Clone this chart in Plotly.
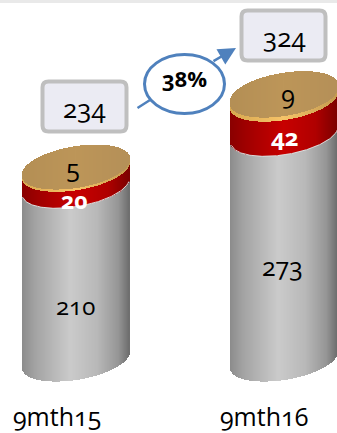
import numpy as np
import plotly.graph_objects as go

categories = ["9mth15", "9mth16"]
grey_values = [210, 273]
red_values = [20, 42]
gold_values = [5, 9]
totals = [234, 324]
growth_label = "38%"

W, H = 337, 433
PX_PER_UNIT = 0.825
ZERO_PX = 360
FONT = "Open Sans"


def v(py):
    """pixel row -> axis value"""
    return (ZERO_PX - py) / PX_PER_UNIT


centers = [75.8, 284.5]
half_w = 53.5
skew = 8 / PX_PER_UNIT
rad = 20 / PX_PER_UNIT

GREY = [(0, "#8c8c8c"), (.12, "#a3a3a3"), (.45, "#cbcbcb"), (.7, "#b9b9b9"), (.9, "#969696"), (1, "#6e6e6e")]
RED = [(0, "#8a0000"), (.15, "#a00000"), (.5, "#c80000"), (.8, "#b00000"), (1, "#7c0000")]
RIM = [(0, "#d8a850"), (.5, "#f7c469"), (1, "#c49a50")]
CAP = [(0, "#b48f55"), (.5, "#bd9659"), (1, "#b59058")]


def ramp(stops, u):
    ps = [s[0] for s in stops]
    cs = [[int(s[1][i:i + 2], 16) for i in (1, 3, 5)] for s in stops]
    return ["rgb(%d,%d,%d)" % tuple(np.interp(x, ps, [c[k] for c in cs]) for k in range(3)) for x in u]


fig = go.Figure()
n = 107
t = (np.arange(n) + .5) / n * 2 - 1
u = (t + 1) / 2
front = skew * t - rad * np.sqrt(1 - t ** 2)
span = 2 * rad * np.sqrt(1 - t ** 2)
xs_w = 2 * half_w / n * 1.5

for i, c in enumerate(centers):
    x = c + t * half_w
    bottom = 0
    for vals, stops in ((grey_values, GREY), (red_values, RED), (gold_values, RIM)):
        fig.add_bar(x=x, y=[vals[i]] * n, base=bottom + front, width=xs_w,
                    marker=dict(color=ramp(stops, u), line_width=0), hoverinfo="skip")
        bottom += vals[i]
    drop = 0.45 * gold_values[i]
    fig.add_bar(x=x, y=span + drop, base=bottom + front - drop, width=xs_w,
                marker=dict(color=ramp(CAP, u), line_width=0), hoverinfo="skip")
    fig.add_scatter(x=x, y=grey_values[i] + front, mode="lines",
                    line=dict(color="#dcdcdc", width=1), hoverinfo="skip")

shapes = [
    dict(type="rect", xref="paper", yref="paper", x0=0, x1=1, y0=1 - 3 / H, y1=1,
         fillcolor="#e9e9e9", line_width=0),
]


def rounded(x0, y0, x1, y1, r=6):
    return dict(type="path", xref="x", yref="y", fillcolor="#ebebf3",
                line=dict(color="#bfbfbf", width=4),
                path=(f"M{x0 + r},{v(y0)} L{x1 - r},{v(y0)} Q{x1},{v(y0)} {x1},{v(y0 + r)} "
                      f"L{x1},{v(y1 - r)} Q{x1},{v(y1)} {x1 - r},{v(y1)} L{x0 + r},{v(y1)} "
                      f"Q{x0},{v(y1)} {x0},{v(y1 - r)} L{x0},{v(y0 + r)} Q{x0},{v(y0)} {x0 + r},{v(y0)} Z"))


shapes += [rounded(42.5, 81.5, 126.5, 131.5), rounded(241.5, 10.5, 325.5, 60.5)]
shapes.append(dict(type="circle", xref="x", yref="y", x0=144.5, x1=224.5, y0=v(54.5), y1=v(113.5),
                   fillcolor="white", line=dict(color="#4f81bd", width=3)))

ann = []


def label(x, py, text, size, color="black", bold=False):
    ann.append(dict(x=x, y=v(py), text=f"<b>{text}</b>" if bold else str(text), showarrow=False,
                    font=dict(family=FONT, size=size, color=color), xanchor="center", yanchor="middle"))


label(75, 305, grey_values[0], 24)
label(282, 266, grey_values[1], 25)
label(74, 200, red_values[0], 23, "white", True)
label(284, 136, red_values[1], 24, "white", True)
label(73, 168, gold_values[0], 25)
label(288, 94, gold_values[1], 25)
label(84, 108, totals[0], 26)
label(284, 37, totals[1], 26)
label(184.5, 78, growth_label, 22, bold=True)
label(57, 416, categories[0], 25)
label(264, 416, categories[1], 25)

# growth arrow, in two pieces either side of the ellipse
ann.append(dict(x=150, y=v(100), ax=136, ay=v(109), xref="x", yref="y", axref="x", ayref="y", text="",
                showarrow=True, arrowhead=0, arrowwidth=2.5, arrowcolor="#4f81bd"))
ann.append(dict(x=236, y=v(48), ax=212, ay=v(62), xref="x", yref="y", axref="x", ayref="y", text="",
                showarrow=True, arrowhead=2, arrowsize=1.4, arrowwidth=2.5, arrowcolor="#4f81bd"))

fig.update_layout(
    width=W, height=H, margin=dict(l=0, r=0, t=0, b=0), barmode="overlay", bargap=0,
    showlegend=False, plot_bgcolor="white", paper_bgcolor="white",
    xaxis=dict(range=[0, W], visible=False, fixedrange=True),
    yaxis=dict(range=[v(H), v(0)], visible=False, fixedrange=True),
    shapes=shapes, annotations=ann,
)
fig.write_html("out.html", config={"displayModeBar": False},
               post_script="document.body.style.margin='0';document.body.style.overflow='hidden';"
                           "var s=document.createElement('style');"
                           "s.textContent='text{font-feature-settings:\"onum\" 1 !important}';"
                           "document.head.appendChild(s);")
